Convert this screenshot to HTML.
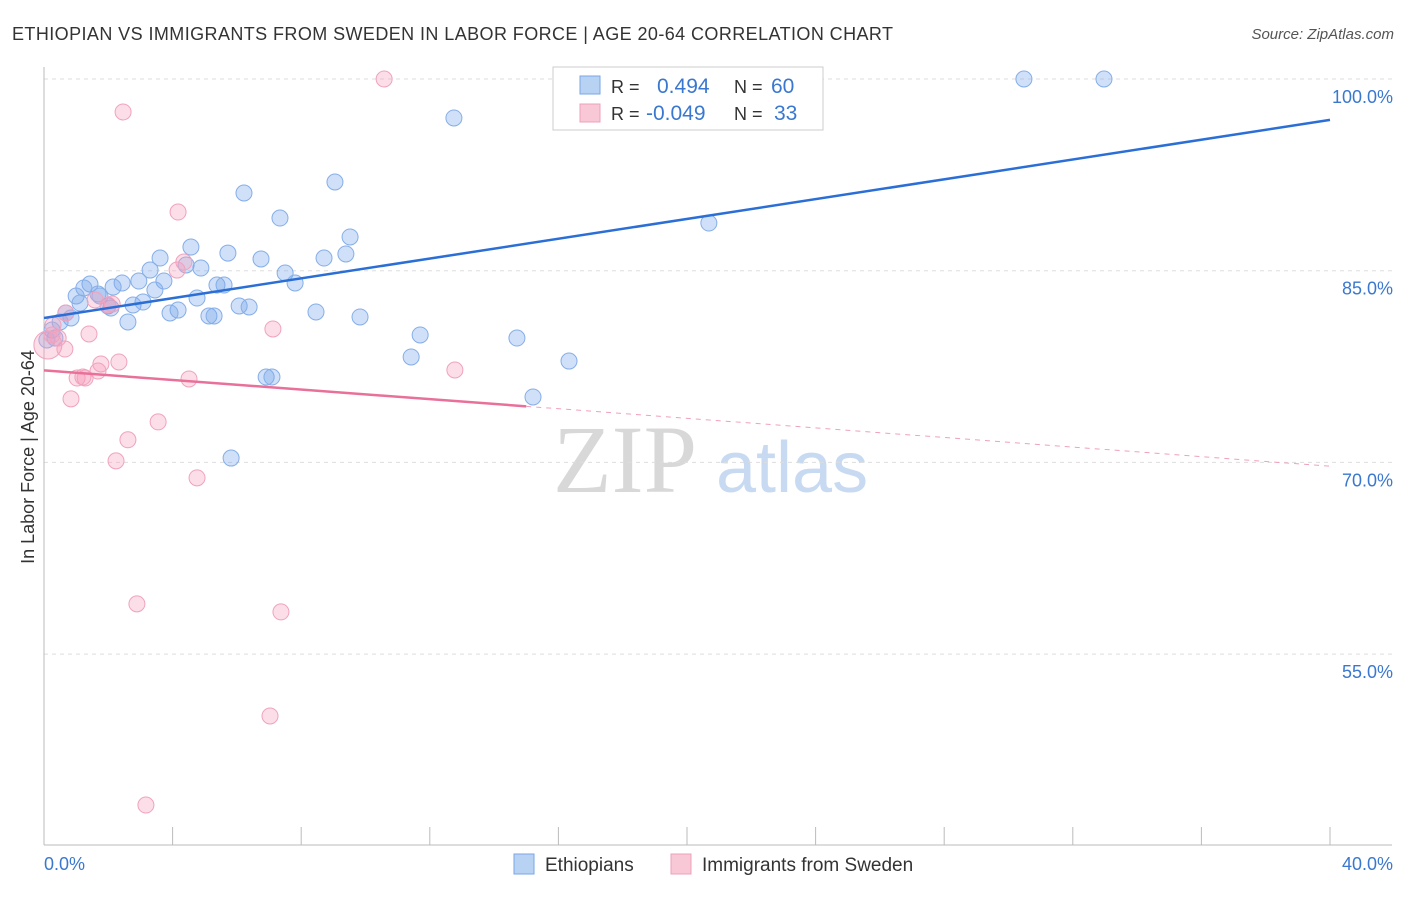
<!DOCTYPE html>
<html><head><meta charset="utf-8"><style>
body{margin:0;background:#fff;width:1406px;height:892px;overflow:hidden;font-family:"Liberation Sans",sans-serif}
</style></head><body>
<svg width="1406" height="892" xmlns="http://www.w3.org/2000/svg">
<text x="12" y="40" font-size="18" fill="#333" textLength="881" lengthAdjust="spacing">ETHIOPIAN VS IMMIGRANTS FROM SWEDEN IN LABOR FORCE | AGE 20-64 CORRELATION CHART</text>
<text x="1394" y="39" font-size="15" fill="#555" font-style="italic" text-anchor="end">Source: ZipAtlas.com</text>
<g>
<text x="553" y="492" font-family="Liberation Serif,serif" font-size="96" fill="#d8d8d8">ZIP</text>
<text x="716" y="492" font-size="72" fill="#c8daf2">atlas</text>
</g>
<g id="grid"></g>
<line x1="44" y1="67" x2="44" y2="845" stroke="#bbb"/>
<line x1="44" y1="845" x2="1392" y2="845" stroke="#bbb"/>
<g id="marks"></g>
<text x="34" y="457" font-size="18" fill="#333" text-anchor="middle" transform="rotate(-90 34 457)">In Labor Force | Age 20-64</text>
<text x="44" y="870" font-size="18" fill="#3a78d0">0.0%</text>
<text x="1393" y="870" font-size="18" fill="#3a78d0" text-anchor="end">40.0%</text>
<g>
<rect x="553" y="67" width="270" height="63" fill="#fff" stroke="#ccc"/>
<rect x="580" y="76" width="20" height="18" fill="#b8d2f4" stroke="#7aa6e4"/>
<rect x="580" y="104" width="20" height="18" fill="#f8c8d6" stroke="#eea0ba"/>
<text x="611" y="93" font-size="18" fill="#333">R =</text><text x="657" y="93" font-size="21" fill="#3a78d0">0.494</text>
<text x="734" y="93" font-size="18" fill="#333">N =</text><text x="771" y="93" font-size="21" fill="#3a78d0">60</text>
<text x="611" y="120" font-size="18" fill="#333">R =</text><text x="646" y="120" font-size="21" fill="#3a78d0">-0.049</text>
<text x="734" y="120" font-size="18" fill="#333">N =</text><text x="774" y="120" font-size="21" fill="#3a78d0">33</text>
</g>
<g>
<rect x="514" y="854" width="20" height="20" fill="#b8d2f4" stroke="#7aa6e4"/>
<text x="545" y="871" font-size="19" fill="#333">Ethiopians</text>
<rect x="671" y="854" width="20" height="20" fill="#f8c8d6" stroke="#eea0ba"/>
<text x="702" y="871" font-size="19" fill="#333">Immigrants from Sweden</text>
</g>
</svg>
<script>
const yTicks=[100,85,70,55];
const xTickCount=10;
const blueX=[30.48,32.97,12.75,6.22,9.05,7.34,20.68,9.52,4.57,5.72,3.61,6.75,8.71,9.39,4.42,4.88,3.30,7.50,1.43,2.43,2.95,3.73,5.38,5.60,7.81,2.15,1.24,1.00,1.68,1.74,3.45,4.76,1.12,2.77,3.08,2.08,1.99,6.07,6.38,4.17,3.92,8.46,5.13,5.29,9.83,0.68,0.84,0.50,2.61,0.25,0.34,11.70,14.71,0.09,11.42,16.33,6.91,7.09,15.21,5.82];
const blueY=[100,100,96.95,91.08,91.94,89.12,88.73,87.64,86.85,86.38,85.99,85.92,85.99,86.31,85.45,85.21,85.05,84.82,83.96,84.04,84.19,84.19,83.88,83.88,84.04,83.72,83.65,83.02,83.18,83.02,83.49,82.86,82.47,82.32,82.55,82.08,82.24,82.24,82.16,81.92,81.69,81.77,81.46,81.46,81.38,81.69,81.30,80.99,80.99,80.36,79.73,79.97,79.73,79.58,78.25,77.93,76.68,76.68,75.12,70.34];
const pinkX=[10.58,2.46,4.17,4.35,4.14,1.59,2.12,1.99,0.68,0.28,1.40,0.25,0.44,7.12,0.65,1.77,2.33,1.68,1.28,1.03,1.21,4.51,12.78,0.84,3.55,2.61,2.24,4.76,2.89,7.37,7.03,3.17,0.12];
const pinkY=[100,97.42,89.59,85.68,85.05,82.71,82.39,82.32,81.69,80.75,80.05,79.97,79.73,80.44,78.87,77.70,77.86,77.15,76.60,76.60,76.68,76.53,77.23,74.97,73.17,71.77,70.12,68.79,58.93,58.30,50.16,43.19,79.19];
const blueTrend=[81.3,96.8];
const pinkTrend=[77.2,69.7];
const pinkSolidEnd=15.0;
const X=v=>44+v*(1286/40);
const Y=v=>79+(100-v)*(191.7/15);
const NS='http://www.w3.org/2000/svg';
const grid=document.getElementById('grid'),marks=document.getElementById('marks');
function mk(p,tag,a){const e=document.createElementNS(NS,tag);for(const k in a)e.setAttribute(k,a[k]);p.appendChild(e);return e;}
yTicks.forEach(t=>{
 const l=mk(grid,'line',{x1:44,x2:1392,y1:Y(t),y2:Y(t),stroke:'#ddd','stroke-dasharray':'4,4'});
 
 
 const tx=mk(grid,'text',{x:1393,y:Y(t)+24,'font-size':18,fill:'#3a78d0','text-anchor':'end'});
 tx.textContent=t.toFixed(1)+'%';
 
 
});
for(let i=1;i<=xTickCount;i++){
 const l=mk(grid,'line',{x1:X(i*4),x2:X(i*4),y1:827,y2:845,stroke:'#bbb'});
 
 
}
blueX.forEach((x,i)=>{
 const c=mk(marks,'circle',{cx:X(x),cy:Y(blueY[i]),r:8,fill:'rgba(120,165,235,0.35)',stroke:'#85aee8','stroke-width':1});
 
 
});
pinkX.forEach((x,i)=>{
 const c=mk(marks,'circle',{cx:X(x),cy:Y(pinkY[i]),r:i==pinkX.length-1?14:8,fill:'rgba(245,160,190,0.35)',stroke:'#f0a2bd','stroke-width':1});
 
 
});
const bl=mk(marks,'line',{x1:X(0),y1:Y(blueTrend[0]),x2:X(40),y2:Y(blueTrend[1]),stroke:'#2b6fd6','stroke-width':2.5});


const pm=v=>pinkTrend[0]+(pinkTrend[1]-pinkTrend[0])*v/40;
const pl=mk(marks,'line',{x1:X(0),y1:Y(pinkTrend[0]),x2:X(pinkSolidEnd),y2:Y(pm(pinkSolidEnd)),stroke:'#e8709a','stroke-width':2.5});


const pd=mk(marks,'line',{x1:X(pinkSolidEnd),y1:Y(pm(pinkSolidEnd)),x2:X(40),y2:Y(pinkTrend[1]),stroke:'#f0a0bc','stroke-width':1,'stroke-dasharray':'5,5'});


</script>
</body></html>
